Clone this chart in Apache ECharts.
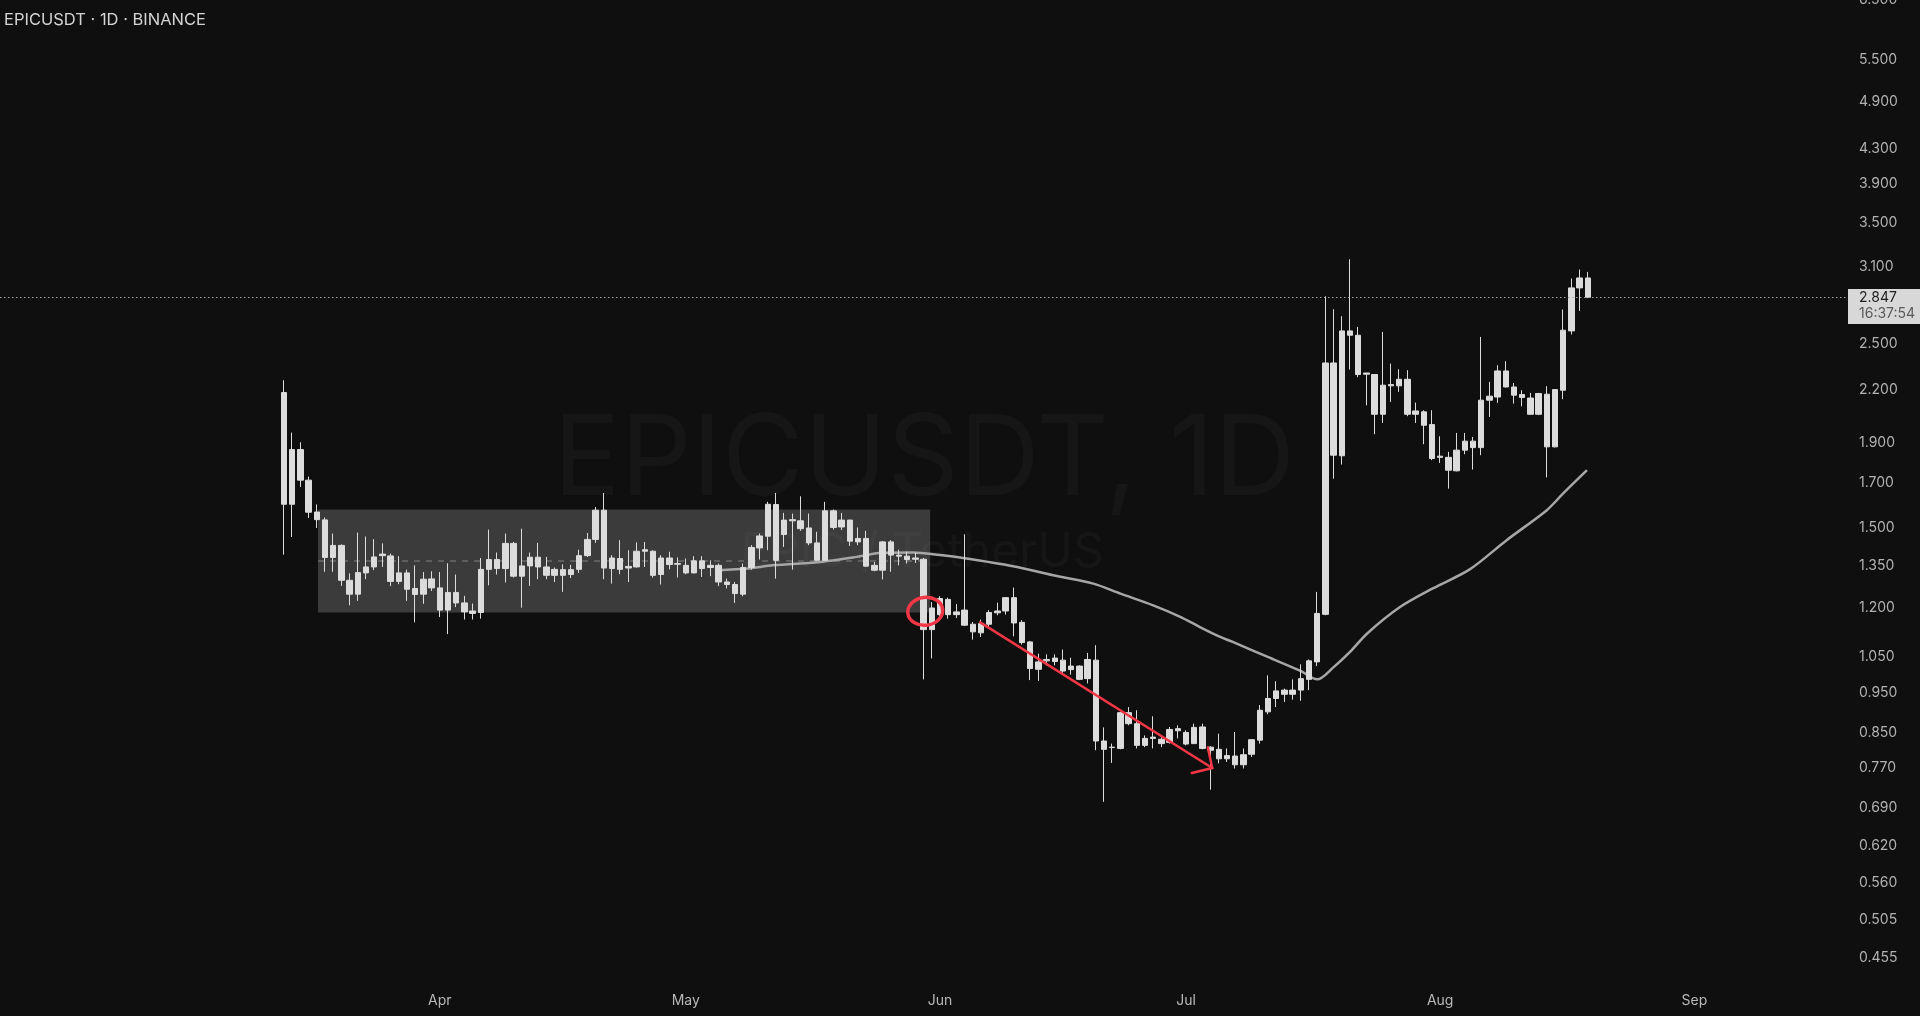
<!DOCTYPE html>
<html>
<head>
<meta charset="utf-8">
<script src="https://cdn.jsdelivr.net/npm/echarts@6/dist/echarts.min.js"></script>
<style>
html,body{margin:0;padding:0;background:#0f0f0f;}
#chart{width:1920px;height:1016px;}
</style>
</head>
<body>
<div id="chart"></div>
<script>
// ---------- DATA ----------
const startDate = Date.UTC(2025, 2, 13); // first daily candle
const opens = [2.185,1.602,1.865,1.713,1.568,1.534,1.382,1.429,1.297,1.248,
1.324,1.346,1.389,1.388,1.293,1.324,1.268,1.248,1.302,1.270,
1.194,1.254,1.218,1.191,1.186,1.337,1.374,1.340,1.437,1.312,
1.350,1.383,1.346,1.315,1.336,1.318,1.337,1.389,1.453,1.576,
1.340,1.378,1.342,1.346,1.406,1.406,1.318,1.380,1.356,1.352,
1.324,1.369,1.344,1.352,1.291,1.282,1.248,1.344,1.419,1.466,
1.601,1.473,1.530,1.530,1.500,1.439,1.371,1.573,1.504,1.533,
1.443,1.457,1.352,1.334,1.443,1.391,1.387,1.375,1.375,1.131,
1.179,1.230,1.179,1.194,1.148,1.121,1.148,1.185,1.191,1.236,
1.154,1.093,1.013,1.037,1.045,1.039,1.012,1.022,0.987,1.039,
0.830,0.815,0.813,0.898,0.871,0.820,0.836,0.834,0.827,0.859,
0.850,0.824,0.863,0.816,0.811,0.790,0.796,0.777,0.800,0.832,
0.900,0.934,0.956,0.945,0.956,0.985,1.034,1.180,2.372,1.833,
2.593,2.562,2.299,2.297,2.057,2.226,2.226,2.267,2.057,2.071,
1.999,1.825,1.825,1.758,1.862,1.909,1.875,2.139,2.158,2.320,
2.219,2.173,2.152,2.057,2.175,1.879,2.199,2.593,2.922,3.004];
const closes = [1.602,1.865,1.713,1.567,1.535,1.382,1.429,1.297,1.248,1.325,
1.346,1.384,1.395,1.293,1.324,1.265,1.247,1.301,1.270,1.194,
1.254,1.218,1.188,1.183,1.337,1.374,1.340,1.437,1.312,1.350,
1.383,1.346,1.315,1.337,1.315,1.336,1.389,1.453,1.576,1.342,
1.380,1.337,1.348,1.406,1.412,1.315,1.380,1.355,1.359,1.324,
1.369,1.340,1.352,1.291,1.282,1.250,1.344,1.421,1.467,1.602,
1.371,1.533,1.535,1.497,1.439,1.371,1.573,1.502,1.533,1.446,
1.457,1.349,1.334,1.443,1.391,1.387,1.374,1.380,1.131,1.201,
1.233,1.179,1.188,1.145,1.124,1.150,1.186,1.191,1.236,1.152,
1.091,1.015,1.034,1.041,1.035,1.008,1.022,0.985,1.041,0.830,
0.811,0.816,0.898,0.871,0.820,0.836,0.839,0.824,0.857,0.854,
0.823,0.862,0.813,0.809,0.790,0.797,0.777,0.799,0.833,0.904,
0.934,0.954,0.945,0.956,0.987,1.037,1.183,2.372,1.836,2.593,
2.562,2.297,2.307,2.057,2.230,2.234,2.267,2.057,2.076,1.995,
1.819,1.831,1.761,1.862,1.909,1.875,2.139,2.163,2.320,2.219,
2.169,2.155,2.057,2.179,1.879,2.203,2.598,2.922,3.004,2.847];
const highs = [2.261,1.955,1.903,1.730,1.601,1.544,1.477,1.433,1.322,1.481,
1.465,1.454,1.437,1.397,1.387,1.336,1.352,1.327,1.330,1.327,
1.360,1.318,1.242,1.216,1.380,1.493,1.401,1.477,1.443,1.497,
1.401,1.439,1.384,1.344,1.356,1.354,1.412,1.479,1.590,1.653,
1.391,1.450,1.410,1.441,1.443,1.410,1.391,1.404,1.382,1.378,
1.387,1.387,1.371,1.359,1.303,1.291,1.359,1.430,1.477,1.613,
1.653,1.564,1.561,1.638,1.561,1.484,1.613,1.579,1.564,1.535,
1.502,1.488,1.365,1.447,1.450,1.412,1.404,1.400,1.380,1.221,
1.241,1.236,1.214,1.474,1.155,1.163,1.194,1.219,1.238,1.271,
1.161,1.096,1.058,1.056,1.056,1.070,1.046,1.024,1.060,1.083,
0.862,0.824,0.900,0.912,0.904,0.843,0.889,0.839,0.863,0.867,
0.855,0.871,0.871,0.818,0.847,0.813,0.851,0.813,0.834,0.917,
0.996,0.980,0.960,0.985,1.027,1.041,1.256,2.855,2.754,2.701,
3.164,2.622,2.307,2.297,2.586,2.368,2.331,2.325,2.125,2.080,
2.080,1.935,1.853,1.953,1.953,1.931,2.550,2.251,2.357,2.384,
2.244,2.199,2.183,2.183,2.224,2.205,2.752,2.999,3.075,3.055];
const lows = [1.393,1.463,1.681,1.542,1.500,1.328,1.328,1.277,1.210,1.225,
1.301,1.334,1.346,1.276,1.283,1.225,1.154,1.215,1.259,1.171,
1.117,1.204,1.163,1.163,1.166,1.279,1.318,1.289,1.307,1.202,
1.277,1.301,1.301,1.291,1.256,1.305,1.324,1.384,1.439,1.301,
1.285,1.319,1.291,1.344,1.346,1.307,1.282,1.337,1.307,1.319,
1.322,1.309,1.312,1.276,1.268,1.218,1.241,1.336,1.374,1.410,
1.303,1.423,1.336,1.488,1.430,1.369,1.369,1.493,1.491,1.427,
1.430,1.346,1.330,1.300,1.328,1.352,1.359,1.361,0.985,1.044,
1.170,1.166,1.168,1.143,1.100,1.108,1.139,1.177,1.179,1.110,
1.085,0.983,0.981,1.024,1.024,1.003,0.998,0.983,0.974,0.809,
0.701,0.781,0.811,0.867,0.813,0.816,0.813,0.816,0.824,0.836,
0.820,0.823,0.811,0.725,0.780,0.783,0.769,0.769,0.794,0.824,
0.894,0.912,0.925,0.931,0.928,0.956,1.022,1.177,1.720,1.789,
2.329,2.280,2.109,1.946,2.008,2.129,2.189,2.046,2.008,1.893,
1.811,1.797,1.673,1.755,1.841,1.764,1.836,2.042,2.123,2.216,
2.119,2.103,2.055,2.052,1.726,1.876,2.145,2.567,2.741,2.840];

// moving average line as [day offset, price]
const maDays   = [52.9,56.5,59.6,65.7,69.4,73.0,76.7,80.0,82.8,88.9,93.8,98.7,102.0,106.0,109.3,111.7,114.1,115.7,119.9,123.9,126.0,128.0,130.0,132.1,136.1,140.1,144.6,149.1,154.0,156.0,158.9];
const maValues = [1.334,1.340,1.352,1.366,1.382,1.400,1.401,1.391,1.380,1.349,1.315,1.285,1.250,1.210,1.172,1.139,1.109,1.093,1.049,1.009,0.985,1.019,1.063,1.119,1.204,1.268,1.337,1.450,1.576,1.651,1.761];

// price-scale and time-scale tick labels
const priceTicks = [6.5,5.5,4.9,4.3,3.9,3.5,3.1,2.5,2.2,1.9,1.7,1.5,1.35,1.2,1.05,0.95,0.85,0.77,0.69,0.62,0.56,0.505,0.455];
const monthLabels = ['Apr','May','Jun','Jul','Aug','Sep'];
const monthStarts = [Date.UTC(2025,3,1),Date.UTC(2025,4,1),Date.UTC(2025,5,1),Date.UTC(2025,6,1),Date.UTC(2025,7,1),Date.UTC(2025,8,1)];

const lastPrice = 2.847;
const lastTime = '16:37:54';

// drawings
const rangeBox = {startDay: 4.15, endDay: 78.8, top: 1.579, bottom: 1.186};
const arrowLine = {fromDay: 84.9, fromPrice: 1.154, toDay: 113.2, toPrice: 0.770};
const markCircle = {day: 78.2, price: 1.19};

// ---------- BUILD ----------
const DAY = 86400000;
const monthDays = monthStarts.map(t => Math.round((t - startDate) / DAY));
const candleData = opens.map((o, i) => [i, Math.log(o), Math.log(closes[i]), Math.log(lows[i]), Math.log(highs[i])]);
const maData = maDays.map((d, i) => [d, Math.log(maValues[i])]);
const FONT = 'Inter, "Noto Sans", sans-serif';
const CANDLE = '#dcdcdc';
const RED = '#f23645';

const chart = echarts.init(document.getElementById('chart'), null, {renderer: 'canvas'});
chart.setOption({
  backgroundColor: '#0f0f0f',
  animation: false,
  title: {
    text: 'EPICUSDT · 1D · BINANCE',
    left: 4, top: 12, padding: 0,
    textStyle: {color: '#d4d4d4', fontSize: 16.5, fontWeight: 'normal', fontFamily: FONT}
  },
  graphic: [
    {type: 'text', x: 924, y: 461, z: -10, silent: true,
     style: {text: 'EPICUSDT, 1D', fill: 'rgba(255,255,255,0.032)', font: '400 112px Inter', align: 'center', verticalAlign: 'middle'}},
    {type: 'text', x: 922, y: 553, z: -10, silent: true,
     style: {text: 'EPIC / TetherUS', fill: 'rgba(255,255,255,0.032)', font: '400 48px Inter', align: 'center', verticalAlign: 'middle'}}
  ],
  grid: {left: 0, right: 72, top: 0, bottom: 31, containLabel: false, outerBoundsMode: 'none'},
  xAxis: {
    type: 'value', min: -34.634, max: 190.732,
    splitLine: {show: false}, axisLine: {show: false}, axisTick: {show: false},
    axisLabel: {
      customValues: monthDays,
      formatter: v => monthLabels[monthDays.indexOf(Math.round(v))],
      color: '#b8b8b8', fontSize: 14, fontFamily: FONT, margin: 9
    }
  },
  yAxis: {
    type: 'value', position: 'right', min: -0.8641, max: 1.8720,
    splitLine: {show: false}, axisLine: {show: false}, axisTick: {show: false},
    axisLabel: {
      customValues: priceTicks.map(Math.log),
      formatter: v => Math.exp(v).toFixed(3),
      color: '#b2b2b2', fontSize: 14, fontFamily: FONT, margin: 11
    }
  },
  series: [
    { // range rectangle + midline
      type: 'custom', z: 1, silent: true,
      data: [[rangeBox.startDay, Math.log(rangeBox.top), rangeBox.endDay, Math.log(rangeBox.bottom)]],
      encode: {x: [0, 2], y: [1, 3]},
      renderItem: (params, api) => {
        const p1 = api.coord([api.value(0), api.value(1)]);
        const p2 = api.coord([api.value(2), api.value(3)]);
        const midY = (p1[1] + p2[1]) / 2;
        return {type: 'group', children: [
          {type: 'rect', shape: {x: p1[0], y: p1[1], width: p2[0] - p1[0], height: p2[1] - p1[1]},
           style: {fill: 'rgba(255,255,255,0.185)'}},
          {type: 'line', shape: {x1: p1[0], y1: midY, x2: p2[0], y2: midY},
           style: {stroke: 'rgba(255,255,255,0.18)', lineWidth: 2, lineDash: [6, 6]}}
        ]};
      }
    },
    {
      type: 'line', z: 2, silent: true,
      data: maData, showSymbol: false, smooth: 0.3,
      lineStyle: {color: '#a6a6a6', width: 2.5}
    },
    {
      type: 'candlestick', z: 3, silent: true,
      dimensions: ['day', 'open', 'close', 'lowest', 'highest'],
      encode: {x: 0, y: [1, 2, 3, 4]},
      data: candleData,
      barWidth: 6,
      itemStyle: {color: CANDLE, color0: CANDLE, borderColor: CANDLE, borderColor0: CANDLE, borderColorDoji: CANDLE, borderWidth: 1}
    },
    { // last price line + label
      type: 'custom', z: 5, silent: true, clip: false,
      data: [[0, Math.log(lastPrice)]],
      encode: {x: 0, y: 1},
      renderItem: (params, api) => {
        const y = Math.round(api.coord([0, api.value(1)])[1]) + 0.5;
        const cs = params.coordSys;
        const xr = cs.x + cs.width;
        return {type: 'group', children: [
          {type: 'line', shape: {x1: cs.x, y1: y, x2: xr, y2: y},
           style: {stroke: '#a0a0a0', lineWidth: 1, lineDash: [1.5, 2.5]}},
          {type: 'rect', shape: {x: xr, y: y - 8.5, width: 80, height: 35},
           style: {fill: '#d8d8d8'}},
          {type: 'text', style: {x: xr + 11, y: y + 0.5, text: lastPrice.toFixed(3), fill: '#1e1e1e',
           font: '14px ' + FONT, verticalAlign: 'middle', align: 'left'}},
          {type: 'text', style: {x: xr + 11, y: y + 16, text: lastTime, fill: '#5a5a5a',
           font: '14px ' + FONT, verticalAlign: 'middle', align: 'left'}}
        ]};
      }
    },
    { // red arrow
      type: 'custom', z: 6, silent: true, clip: false,
      data: [[arrowLine.fromDay, Math.log(arrowLine.fromPrice), arrowLine.toDay, Math.log(arrowLine.toPrice)]],
      encode: {x: [0, 2], y: [1, 3]},
      renderItem: (params, api) => {
        const a = api.coord([api.value(0), api.value(1)]);
        const b = api.coord([api.value(2), api.value(3)]);
        const ang = Math.atan2(a[1] - b[1], a[0] - b[0]);
        const L = 21;
        const h1 = [b[0] + L * Math.cos(ang + 0.8), b[1] + L * Math.sin(ang + 0.8)];
        const h2 = [b[0] + L * Math.cos(ang - 0.8), b[1] + L * Math.sin(ang - 0.8)];
        const st = {stroke: RED, lineWidth: 2.5, lineCap: 'round'};
        return {type: 'group', children: [
          {type: 'line', shape: {x1: a[0], y1: a[1], x2: b[0], y2: b[1]}, style: st},
          {type: 'polyline', shape: {points: [h1, b, h2]}, style: Object.assign({fill: null}, st)}
        ]};
      }
    },
    { // red circle
      type: 'custom', z: 6, silent: true, clip: false,
      data: [[markCircle.day, Math.log(markCircle.price)]],
      encode: {x: 0, y: 1},
      renderItem: (params, api) => {
        const c = api.coord([api.value(0), api.value(1)]);
        return {type: 'ellipse', x: c[0], y: c[1], rotation: 0.12,
          shape: {cx: 0, cy: 0, rx: 17.5, ry: 14},
          style: {fill: null, stroke: RED, lineWidth: 3.5}};
      }
    }
  ]
});
</script>
</body>
</html>
